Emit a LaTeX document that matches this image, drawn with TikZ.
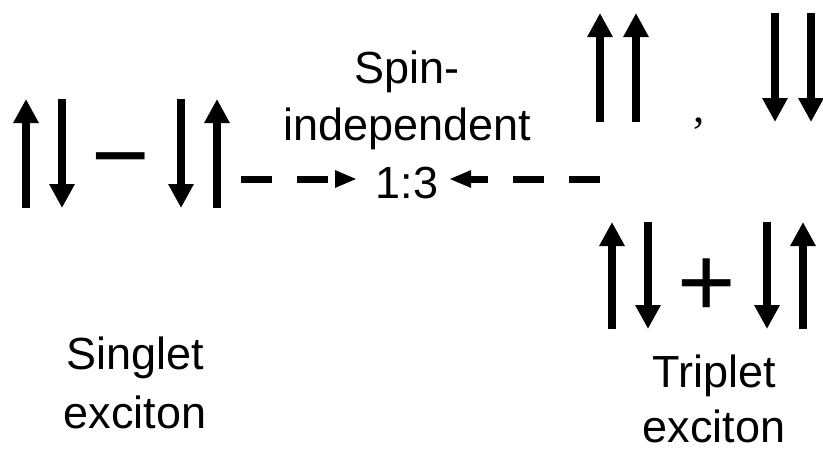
\documentclass[tikz,border=0pt]{standalone}
\usepackage{fontspec}
\setmainfont{Liberation Sans}
\newfontfamily\serifcomma{Liberation Serif}
\usetikzlibrary{arrows.meta}
\tikzset{
  spinarrow/.style={line width=8pt, -{Triangle[width=24pt,length=24pt]}},
  dasharrow/.style={line width=7pt, dash pattern=on 31pt off 25pt, -{Triangle[width=16pt,length=22pt]}},
  label/.style={font=\fontsize{45}{57.5}\selectfont, align=center, inner sep=0pt, anchor=base},
  operator/.style={font=\fontsize{100}{100}\selectfont, inner sep=0pt, anchor=center},
}
\begin{document}
\begin{tikzpicture}[x=1pt,y=-1pt]
\useasboundingbox[fill=white] (0,0) rectangle (823,448);
% singlet spin pairs
\coordinate (s1b) at (26,208); \coordinate (s1t) at (26,99);
\coordinate (s2t) at (62,99); \coordinate (s2b) at (62,208);
\coordinate (s3t) at (181,99); \coordinate (s3b) at (181,208);
\coordinate (s4b) at (217,208); \coordinate (s4t) at (217,99);
\draw[spinarrow] (s1b) -- (s1t);
\draw[spinarrow] (s2t) -- (s2b);
\draw[spinarrow] (s3t) -- (s3b);
\draw[spinarrow] (s4b) -- (s4t);
\node[operator] (minus) at (121,171) {−};
% triplet, parallel spins
\coordinate (t1b) at (600,122); \coordinate (t1t) at (600,13);
\coordinate (t2b) at (636,122); \coordinate (t2t) at (636,13);
\coordinate (t3t) at (775,13); \coordinate (t3b) at (775,122);
\coordinate (t4t) at (811,13); \coordinate (t4b) at (811,122);
\draw[spinarrow] (t1b) -- (t1t);
\draw[spinarrow] (t2b) -- (t2t);
\draw[spinarrow] (t3t) -- (t3b);
\draw[spinarrow] (t4t) -- (t4b);
\node[font=\serifcomma\fontsize{45}{45}\selectfont, inner sep=0pt, anchor=base] (comma) at (699,122) {,};
% triplet, mixed
\coordinate (u1b) at (612,329); \coordinate (u1t) at (612,222);
\coordinate (u2t) at (648,222); \coordinate (u2b) at (648,329);
\coordinate (u3t) at (767,222); \coordinate (u3b) at (767,329);
\coordinate (u4b) at (803,329); \coordinate (u4t) at (803,222);
\draw[spinarrow] (u1b) -- (u1t);
\draw[spinarrow] (u2t) -- (u2b);
\draw[spinarrow] (u3t) -- (u3b);
\draw[spinarrow] (u4b) -- (u4t);
\node[operator] (plus) at (707,288) {+};
% middle text
\node[label] (mid) at (407,198) {Spin-\\independent\\1:3};
% dashed arrows
\coordinate (singletR) at (241,179);
\coordinate (ratioL) at (357,179);
\coordinate (tripletL) at (600,179);
\coordinate (ratioR) at (449,179);
\draw[dasharrow] (singletR) -- (ratioL);
\draw[dasharrow] (tripletL) -- (ratioR);
% labels
\node[label, font=\fontsize{45}{59}\selectfont] (singlet) at (135,428) {Singlet\\exciton};
\node[label, font=\fontsize{45}{55}\selectfont] (triplet) at (714,442) {Triplet\\exciton};
\end{tikzpicture}
\end{document}
